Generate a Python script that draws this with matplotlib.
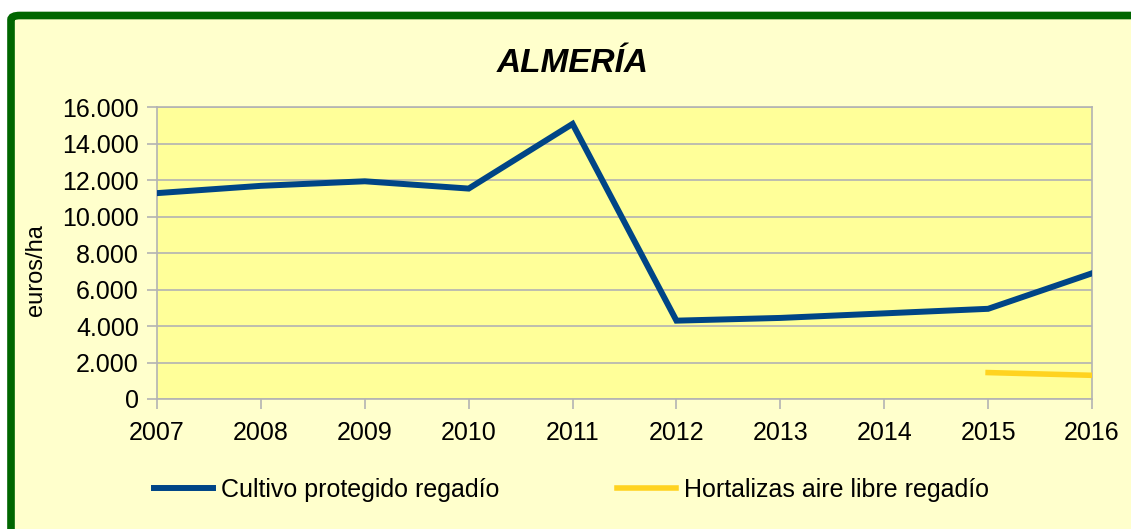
import numpy as np
import matplotlib.pyplot as plt
from matplotlib.patches import FancyBboxPatch

# data (euros/ha)
years = [2007, 2008, 2009, 2010, 2011, 2012, 2013, 2014, 2015, 2016]
protegido = [11300, 11700, 11950, 11550, 15100, 4300, 4450, 4700, 4950, 6900]
hortalizas = [np.nan, np.nan, np.nan, np.nan, np.nan, np.nan, np.nan, np.nan, 1450, 1300]
yticks = [0, 2000, 4000, 6000, 8000, 10000, 12000, 14000, 16000]
ytick_labels = ['0', '2.000', '4.000', '6.000', '8.000', '10.000', '12.000', '14.000', '16.000']

plt.rcParams['font.family'] = ['Liberation Sans', 'DejaVu Sans']
fs = 18
W, H = 1131, 529

fig = plt.figure(figsize=(W / 100, H / 100), dpi=100)
fig.patch.set_facecolor('white')

# chart background with green border (only top/left visible)
bg = FancyBboxPatch((11 / W, 0.0 - 0.05), 1.2, 1 - 15.5 / H + 0.05,
                    boxstyle='round,pad=0,rounding_size=0.008',
                    transform=fig.transFigure, facecolor='#FFFFCC',
                    edgecolor='#006600', linewidth=5.5, zorder=-5)
fig.patches.append(bg)

ax = fig.add_axes([157 / W, 1 - 399 / H, (1092 - 157) / W, (399 - 107.5) / H])
ax.set_facecolor('#FFFF99')

ax.plot(years, protegido, color='#004586', lw=4.3, solid_joinstyle='miter',
        label='Cultivo protegido regadío', zorder=3)
ax.plot(years, hortalizas, color='#FFD320', lw=4.0,
        label='Hortalizas aire libre regadío', zorder=3)

ax.set_xlim(2007, 2016)
ax.set_ylim(0, 16000)
ax.set_xticks(years)
ax.set_xticklabels([str(y) for y in years])
ax.set_yticks(yticks)
ax.set_yticklabels(ytick_labels)
ax.grid(axis='y', color='#B3B3B3', lw=1.2, zorder=1)
ax.set_axisbelow(True)
for s in ax.spines.values():
    s.set_color('#B3B3B3')
    s.set_linewidth(1.2)
ax.tick_params(axis='both', colors='#B3B3B3', length=7, width=1.2,
               labelcolor='black', labelsize=fs)
ax.tick_params(axis='x', pad=9)
ax.tick_params(axis='y', pad=6)

fig.text(573 / W, 1 - 63.5 / H, 'ALMERÍA', fontsize=24, fontweight='bold',
         fontstyle='italic', ha='center', va='center')
fig.text(36 / W, 1 - 270 / H, 'euros/ha', fontsize=fs - 1, rotation=90,
         ha='center', va='center')

handles, labels = ax.get_legend_handles_labels()
fig.legend(handles, labels, loc='center left', ncol=2,
           bbox_to_anchor=(154 / W, 1 - 490 / H), frameon=False,
           fontsize=fs, handlelength=2.35, handletextpad=0.33,
           columnspacing=4.7, borderpad=0, borderaxespad=0)

fig.savefig('out.png', dpi=100)
